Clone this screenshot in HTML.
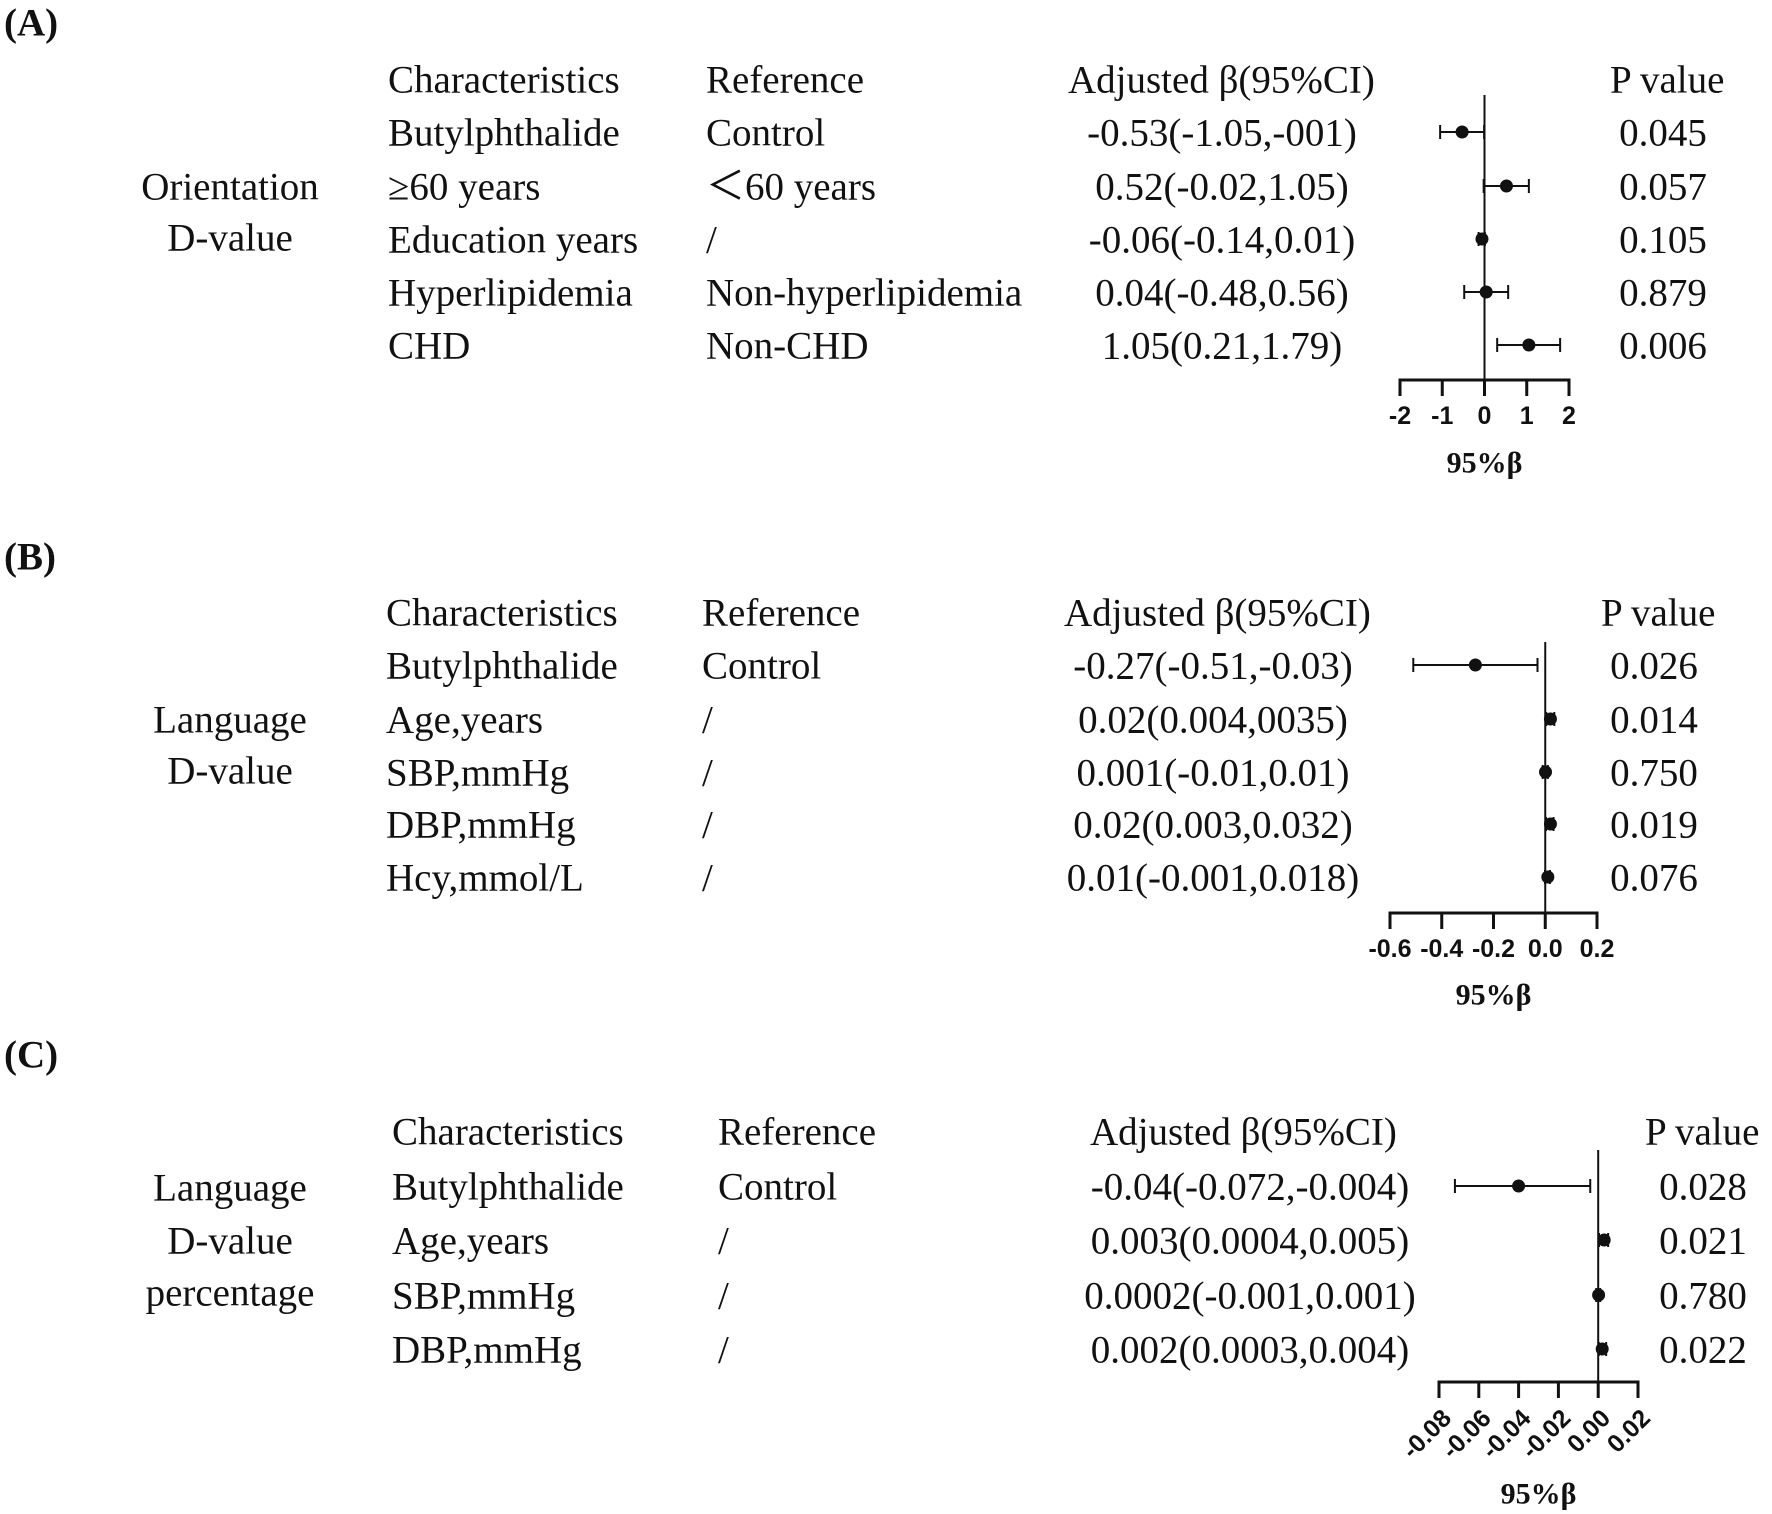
<!DOCTYPE html>
<html><head><meta charset="utf-8"><style>
html,body{margin:0;padding:0;background:#fff;}
svg{display:block;}
.t{font-family:"Liberation Serif",serif;font-size:39px;fill:#111;}
.tk{font-family:"Liberation Sans",sans-serif;font-size:25px;font-weight:bold;fill:#111;}
.ax{font-family:"Liberation Serif",serif;font-size:30px;font-weight:bold;fill:#111;}
</style></head><body>
<svg id="fig" width="1772" height="1514" viewBox="0 0 1772 1514" xmlns="http://www.w3.org/2000/svg"></svg>
<script>
// Panel A data
const aChars=["Butylphthalide","≥60 years","Education years","Hyperlipidemia","CHD"];
const aRefs=["Control","＜60 years","/","Non-hyperlipidemia","Non-CHD"];
const aCI=["-0.53(-1.05,-001)","0.52(-0.02,1.05)","-0.06(-0.14,0.01)","0.04(-0.48,0.56)","1.05(0.21,1.79)"];
const aP=["0.045","0.057","0.105","0.879","0.006"];
const aEst=[-0.53,0.52,-0.06,0.04,1.05];
const aLo=[-1.05,-0.02,-0.14,-0.48,0.3];
const aHi=[-0.01,1.05,0.01,0.56,1.79];
const aTicks=["-2","-1","0","1","2"];
// Panel B data
const bChars=["Butylphthalide","Age,years","SBP,mmHg","DBP,mmHg","Hcy,mmol/L"];
const bRefs=["Control","/","/","/","/"];
const bCI=["-0.27(-0.51,-0.03)","0.02(0.004,0035)","0.001(-0.01,0.01)","0.02(0.003,0.032)","0.01(-0.001,0.018)"];
const bP=["0.026","0.014","0.750","0.019","0.076"];
const bEst=[-0.27,0.02,0.001,0.02,0.01];
const bLo=[-0.51,0.004,-0.01,0.003,-0.001];
const bHi=[-0.03,0.035,0.01,0.032,0.018];
const bTicks=["-0.6","-0.4","-0.2","0.0","0.2"];
// Panel C data
const cChars=["Butylphthalide","Age,years","SBP,mmHg","DBP,mmHg"];
const cRefs=["Control","/","/","/"];
const cCI=["-0.04(-0.072,-0.004)","0.003(0.0004,0.005)","0.0002(-0.001,0.001)","0.002(0.0003,0.004)"];
const cP=["0.028","0.021","0.780","0.022"];
const cEst=[-0.04,0.003,0.0002,0.002];
const cLo=[-0.072,0.0004,-0.001,0.0003];
const cHi=[-0.004,0.005,0.001,0.004];
const cTicks=["-0.08","-0.06","-0.04","-0.02","0.00","0.02"];

const NS="http://www.w3.org/2000/svg";
const svg=document.getElementById('fig');
function mk(tag,attrs,parent){const e=document.createElementNS(NS,tag);for(const k in attrs)e.setAttribute(k,attrs[k]);(parent||svg).appendChild(e);return e;}
function txt(s,x,y,cls,anchor,parent){const e=mk('text',{x:x,y:y,class:cls,'text-anchor':anchor||'start','dominant-baseline':'central'},parent);e.textContent=s;return e;}

function panel(p){
  const g=mk('g',{});
  
  
  const lab=txt('('+p.id.toUpperCase()+')',4,p.labelY,'t','start',g);
  lab.setAttribute('style','font-weight:bold');
  
  
  const heads=[["Characteristics",p.cx,'start'],["Reference",p.rx,'start'],["Adjusted β(95%CI)",p.ex,'start'],["P value",p.px,'start']];
  heads.forEach(h=>{const e=txt(h[0],h[1],p.headY,'t',h[2],g);
    
    });
  p.left.forEach((s,i)=>{const e=txt(s,230,p.leftY[i],'t','middle',g);
    
    });
  p.chars.forEach((s,i)=>{
    const y=p.rows[i];
    let e=txt(s,p.cx,y,'t','start',g);
    
    
    e=txt(p.refs[i],p.rx,y,'t','start',g);
    
    
    e=txt(p.ci[i],p.ecx,y,'t','middle',g);
    
    
    e=txt(p.pv[i],p.pcx,y,'t','middle',g);
    
    
  });
  const n=p.ticks.length;
  const sx=v=>p.x0+(v-p.tmin)/(p.tmax-p.tmin)*(p.x1-p.x0);
  const ax=mk('line',{x1:p.x0-1.5,x2:p.x1+1.5,y1:p.axY,y2:p.axY,stroke:'#111','stroke-width':3},g);
  
  
  p.ticks.forEach((t,i)=>{
    const x=sx(p.tmin+(p.tmax-p.tmin)*i/(n-1));
    const tl=mk('line',{x1:x,x2:x,y1:p.axY,y2:p.axY+16,stroke:'#111','stroke-width':3},g);
    
    
    let e;
    if(p.rot){e=txt(t,x+8,p.tickY,'tk','end',g);e.setAttribute('transform','rotate(-45 '+(x+8)+' '+p.tickY+')');}
    else e=txt(t,x,p.tickY,'tk','middle',g);
    
    
  });
  const zl=mk('line',{x1:sx(0),x2:sx(0),y1:p.vTop,y2:p.axY,stroke:'#111','stroke-width':2},g);
  
  
  const at=txt('95%β',(p.x0+p.x1)/2,p.titleY,'ax','middle',g);
  
  
  p.est.forEach((v,i)=>{
    const y=p.rows[i]-1;
    const w=mk('g',{},g);
    
    
    const a=sx(p.lo[i]),b=sx(p.hi[i]);
    mk('line',{x1:a,x2:b,y1:y,y2:y,stroke:'#111','stroke-width':2},w);
    mk('line',{x1:a,x2:a,y1:y-7,y2:y+7,stroke:'#111','stroke-width':2},w);
    mk('line',{x1:b,x2:b,y1:y-7,y2:y+7,stroke:'#111','stroke-width':2},w);
    const c=mk('circle',{cx:sx(v),cy:y,r:6.5,fill:'#111'},g);
    
    
  });
}
panel({id:'a',labelY:23,headY:80,cx:388,rx:706,ex:1068,px:1610,ecx:1222,pcx:1663,
  left:["Orientation","D-value"],leftY:[187,238],rows:[133,187,240,293,346],
  chars:aChars,refs:aRefs,ci:aCI,pv:aP,est:aEst,lo:aLo,hi:aHi,ticks:aTicks,
  tmin:-2,tmax:2,x0:1400,x1:1569,axY:380,vTop:95,tickY:416,titleY:463,rot:false});
panel({id:'b',labelY:557,headY:613,cx:386,rx:702,ex:1064,px:1601,ecx:1213,pcx:1654,
  left:["Language","D-value"],leftY:[720,771],rows:[666,720,773,825,878],
  chars:bChars,refs:bRefs,ci:bCI,pv:bP,est:bEst,lo:bLo,hi:bHi,ticks:bTicks,
  tmin:-0.6,tmax:0.2,x0:1390,x1:1597,axY:913,vTop:642,tickY:949,titleY:995,rot:false});
panel({id:'c',labelY:1055,headY:1132,cx:392,rx:718,ex:1090,px:1645,ecx:1250,pcx:1703,
  left:["Language","D-value","percentage"],leftY:[1188,1241,1293],rows:[1187,1241,1296,1350],
  chars:cChars,refs:cRefs,ci:cCI,pv:cP,est:cEst,lo:cLo,hi:cHi,ticks:cTicks,
  tmin:-0.08,tmax:0.02,x0:1439,x1:1638,axY:1382,vTop:1150,tickY:1414,titleY:1494,rot:true});
</script>
</body></html>
